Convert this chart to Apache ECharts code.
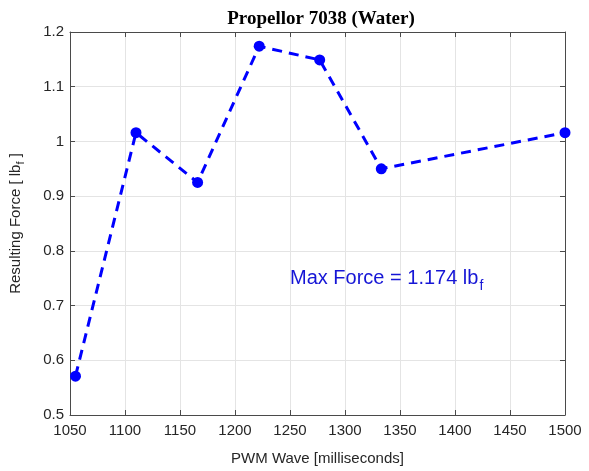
<!DOCTYPE html>
<html>
<head>
<meta charset="utf-8">
<script src="https://cdn.jsdelivr.net/npm/echarts@6/dist/echarts.min.js"></script>
<style>
  html, body { margin: 0; padding: 0; background: #fff; }
  #chart { width: 589px; height: 471px; }
</style>
</head>
<body>
<div id="chart"></div>
<script>
// PWM pulse width (ms) and measured thrust (lbf)
const pwm = [1055, 1110, 1166, 1222, 1277, 1333, 1500];
const force = [0.571, 1.016, 0.925, 1.174, 1.149, 0.950, 1.016];
const maxForce = 1.174;
// Anchor of the max-force note, in data units
const noteAt = [1250, 0.749];

const xRange = { min: 1050, max: 1500, interval: 50 };
const yRange = { min: 0.5, max: 1.2, interval: 0.1 };

const axisColor = '#4a4a4a';
const textColor = '#262626';
const gridColor = '#e4e4e4';
const font = '"Liberation Sans", Arial, sans-serif';

const chart = echarts.init(document.getElementById('chart'), null, { renderer: 'canvas' });

function boxAxis(pos, isX) {
  const r = isX ? xRange : yRange;
  return {
    type: 'value', position: pos, min: r.min, max: r.max, interval: r.interval,
    axisLine: { show: true, lineStyle: { color: axisColor, width: 1 } },
    axisTick: { show: true, inside: true, length: 5, lineStyle: { color: axisColor } },
    axisLabel: { show: false },
    splitLine: { show: false }
  };
}

chart.setOption({
  animation: false,
  backgroundColor: '#fff',
  title: {
    text: 'Propellor 7038 (Water)',
    left: 316, top: 5, textAlign: 'center',
    textStyle: { fontFamily: '"Liberation Serif", "Times New Roman", serif', fontWeight: 'bold', fontSize: 19, color: '#000' }
  },
  grid: { left: 68, right: 24, top: 32, bottom: 47, containLabel: false },
  xAxis: [
    {
      type: 'value', position: 'bottom', min: xRange.min, max: xRange.max, interval: xRange.interval,
      name: 'PWM Wave [milliseconds]', nameLocation: 'middle', nameGap: 36,
      nameTextStyle: { fontFamily: font, fontSize: 15, color: textColor },
      axisLine: { show: true, onZero: false, lineStyle: { color: axisColor, width: 1 } },
      axisTick: { show: true, inside: true, length: 5, lineStyle: { color: axisColor } },
      axisLabel: { margin: 8, fontFamily: font, fontSize: 15, color: textColor, formatter: v => String(v) },
      splitLine: { show: true, lineStyle: { color: gridColor, width: 1 } }
    },
    boxAxis('top', true)
  ],
  yAxis: [
    {
      type: 'value', position: 'left', min: yRange.min, max: yRange.max, interval: yRange.interval,
      name: 'Resulting Force [ lb{s|f} ]', nameLocation: 'middle', nameGap: 44, nameRotate: 90,
      nameTextStyle: {
        fontFamily: font, fontSize: 15, color: textColor,
        rich: { s: { fontFamily: font, fontSize: 11, color: textColor, padding: [10, 0, 0, 0] } }
      },
      axisLine: { show: true, onZero: false, lineStyle: { color: axisColor, width: 1 } },
      axisTick: { show: true, inside: true, length: 5, lineStyle: { color: axisColor } },
      axisLabel: { margin: 6, fontFamily: font, fontSize: 15, color: textColor },
      splitLine: { show: true, lineStyle: { color: gridColor, width: 1 } }
    },
    boxAxis('right', false)
  ],
  series: [
    {
      type: 'line',
      data: pwm.map((x, i) => [x, force[i]]),
      symbol: 'circle', symbolSize: 11, showSymbol: true,
      itemStyle: { color: '#0000ff' },
      lineStyle: { color: '#0000ff', width: 3, type: [10, 7] },
      z: 5,
      markPoint: {
        symbol: 'circle', symbolSize: 0, silent: true,
        data: [{ coord: noteAt, value: maxForce }],
        label: {
          show: true, position: 'right', distance: 0,
          formatter: p => '{a|Max Force = ' + p.value.toFixed(3) + ' lb}{s|f}',
          rich: {
            a: { fontFamily: font, fontSize: 20, color: '#1616d6' },
            s: { fontFamily: font, fontSize: 14, color: '#1616d6', padding: [14, 0, 0, 1] }
          }
        }
      }
    }
  ]
});
</script>
</body>
</html>
